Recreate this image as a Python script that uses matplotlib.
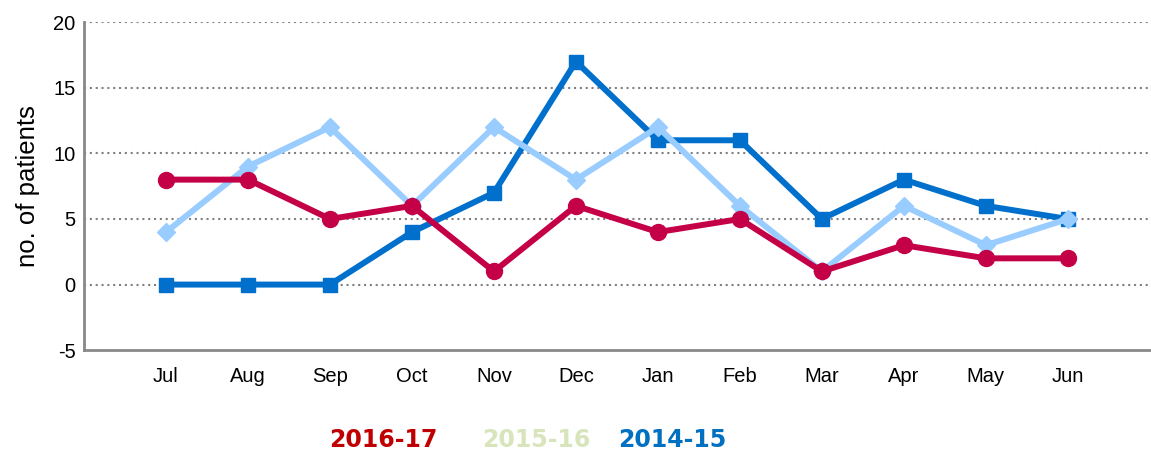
import numpy as np
import matplotlib
matplotlib.use("Agg")
import matplotlib.pyplot as plt

plt.rcParams.update({"font.family": ["Liberation Sans", "DejaVu Sans"]})

months = ["Jul", "Aug", "Sep", "Oct", "Nov", "Dec", "Jan", "Feb", "Mar", "Apr", "May", "Jun"]
y_2016_17 = [8, 8, 5, 6, 1, 6, 4, 5, 1, 3, 2, 2]
y_2015_16 = [4, 9, 12, 6, 12, 8, 12, 6, 1, 6, 3, 5]
y_2014_15 = [0, 0, 0, 4, 7, 17, 11, 11, 5, 8, 6, 5]
yticks = [-5, 0, 5, 10, 15, 20]

C16 = "#C40047"
C15 = "#99CCFF"
C14 = "#0070CC"

fig = plt.figure(figsize=(11.51, 4.53), dpi=100)
ax = fig.add_axes([0.073, 0.227, 0.926, 0.724])

x = np.arange(len(months))
ax.plot(x, y_2014_15, color=C14, lw=4.3, marker="s", ms=10.5, zorder=3)
ax.plot(x, y_2015_16, color=C15, lw=4.3, marker="D", ms=9, zorder=4)
ax.plot(x, y_2016_17, color=C16, lw=4.3, marker="o", ms=11.5, zorder=5)

ax.set_xlim(-1, 12)
ax.set_ylim(-5, 20)
ax.set_yticks(yticks)
ax.set_yticklabels([str(v) for v in yticks], fontsize=14.5)
ax.set_xticks(x)
ax.set_xticklabels(months, fontsize=14.5)
ax.tick_params(length=0)
ax.tick_params(axis="y", pad=6)
ax.tick_params(axis="x", pad=12)
for v in yticks[1:]:
    ax.axhline(v, color="#808080", lw=1.5, ls=(0, (1, 1.8)), zorder=1)

for s in ["top", "right"]:
    ax.spines[s].set_visible(False)
for s in ["left", "bottom"]:
    ax.spines[s].set_color("#888888")
    ax.spines[s].set_linewidth(2)
ax.set_ylabel("no. of patients", fontsize=18.5, labelpad=10)

fig.text(383 / 1151, 1 - 440 / 453, "2016-17", color="#C00000", fontsize=17,
         fontweight="bold", ha="center", va="center", family="DejaVu Sans")
fig.text(536 / 1151, 1 - 440 / 453, "2015-16", color="#D8E4BC", fontsize=17,
         fontweight="bold", ha="center", va="center", family="DejaVu Sans")
fig.text(672 / 1151, 1 - 440 / 453, "2014-15", color="#0070C0", fontsize=17,
         fontweight="bold", ha="center", va="center", family="DejaVu Sans")

fig.savefig("out.png", dpi=100)
